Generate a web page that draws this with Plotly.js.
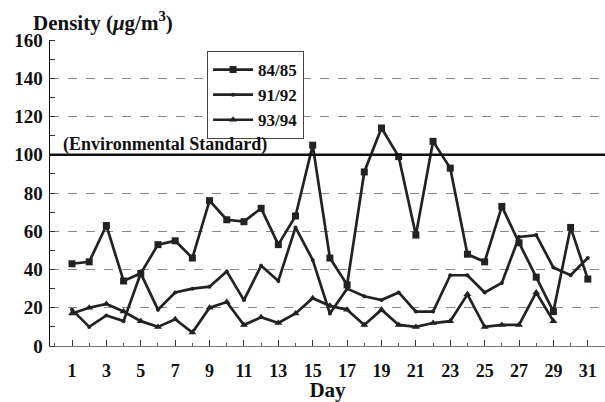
<!DOCTYPE html>
<html>
<head>
<meta charset="utf-8">
<script src="https://cdn.plot.ly/plotly-3.0.1.min.js"></script>
<style>html,body{margin:0;padding:0;background:#fff;}#chart{width:605px;height:402px;}</style>
</head>
<body>
<div id="chart"></div>
<script>
const days = [1,2,3,4,5,6,7,8,9,10,11,12,13,14,15,16,17,18,19,20,21,22,23,24,25,26,27,28,29,30,31];
const days9394 = [1,2,3,4,5,6,7,8,9,10,11,12,13,14,15,16,17,18,19,20,21,22,23,24,25,26,27,28,29];
const s8485 = [43,44,63,34,38,53,55,46,76,66,65,72,53,68,105,46,32,91,114,99,58,107,93,48,44,73,54,36,18,62,35];
const s9192 = [19,10,16,13,38,19,28,30,31,39,24,42,34,62,45,17,30,26,24,28,18,18,37,37,28,33,57,58,41,37,46];
const s9394 = [17,20,22,18,13,10,14,7,20,23,11,15,12,17,25,21,19,11,19,11,10,12,13,27,10,11,11,28,13];
const xTickVals = [1,3,5,7,9,11,13,15,17,19,21,23,25,27,29,31];
const xTickText = ["1","3","5","7","9","11","13","15","17","19","21","23","25","27","29","31"];
const yTickVals = [0,20,40,60,80,100,120,140,160];
const standardValue = 100;
const seriesNames = ["84/85","91/92","93/94"];

const FONT = "Liberation Serif, Times New Roman, serif";
const lineCol = "#222";

const traces = [
  {x: days, y: s8485, name: seriesNames[0], mode: "lines+markers",
   line: {color: lineCol, width: 2.7}, marker: {symbol: "square", size: 7, color: lineCol}},
  {x: days, y: s9192, name: seriesNames[1], mode: "lines+markers",
   line: {color: lineCol, width: 2.7}, marker: {symbol: "circle", size: 4, color: lineCol}},
  {x: days9394, y: s9394, name: seriesNames[2], mode: "lines+markers",
   line: {color: lineCol, width: 2.7}, marker: {symbol: "triangle-up", size: 7, color: lineCol}}
];

const layout = {
  width: 605, height: 402,
  margin: {l: 50, r: 0, t: 40, b: 56},
  paper_bgcolor: "#fff", plot_bgcolor: "#fff",
  font: {family: FONT, size: 16, color: "#111", weight: "bold"},
  showlegend: true,
  legend: {x: 0.283, y: 0.964, xanchor: "left", yanchor: "top",
           bordercolor: "#444", borderwidth: 1, bgcolor: "#fff",
           font: {family: FONT, size: 17, color: "#111", weight: "bold"},
           itemwidth: 40, tracegroupgap: 4},
  xaxis: {range: [-0.28, 32], tickvals: xTickVals, ticktext: xTickText,
          showgrid: false, zeroline: false, showline: true, linecolor: "#777", linewidth: 1,
          ticks: "inside", ticklen: 6, tickcolor: "#333", ticklabelstandoff: 8,
          minor: {dtick: 1, tick0: 0, ticks: "inside", ticklen: 3, tickcolor: "#555"},
          tickfont: {family: FONT, size: 18, color: "#111", weight: "bold"},
          title: {text: "Day", font: {family: FONT, size: 21, color: "#111", weight: "bold"}, standoff: 2}},
  yaxis: {range: [0, 160], tickvals: yTickVals, showgrid: true, gridcolor: "#888", griddash: "dash", gridwidth: 1,
          zeroline: false, showline: true, linecolor: "#111", linewidth: 1.5,
          ticks: "", ticklabelstandoff: 2,
          minor: {dtick: 10, tick0: 0, ticks: "inside", ticklen: 5, tickcolor: "#333", showgrid: false},
          tickfont: {family: FONT, size: 19, color: "#111", weight: "bold"}},
  shapes: [
    {type: "line", xref: "paper", x0: 0, x1: 1, yref: "y", y0: standardValue, y1: standardValue,
     line: {color: "#111", width: 2.5}}
  ],
  annotations: [
    {xref: "paper", yref: "y", x: 0.02, y: standardValue, xanchor: "left", yanchor: "bottom", yshift: -2,
     text: "(Environmental Standard)", showarrow: false,
     font: {family: FONT, size: 18, color: "#111", weight: "bold"}},
    {xref: "paper", yref: "paper", x: -0.035, y: 1.0, xanchor: "left", yanchor: "bottom", yshift: 3,
     text: "Density (<i>μ</i>g/m<sup>3</sup>)", showarrow: false,
     font: {family: FONT, size: 21, color: "#111", weight: "bold"}}
  ]
};

Plotly.newPlot("chart", traces, layout, {displayModeBar: false, staticPlot: true});
</script>
</body>
</html>
